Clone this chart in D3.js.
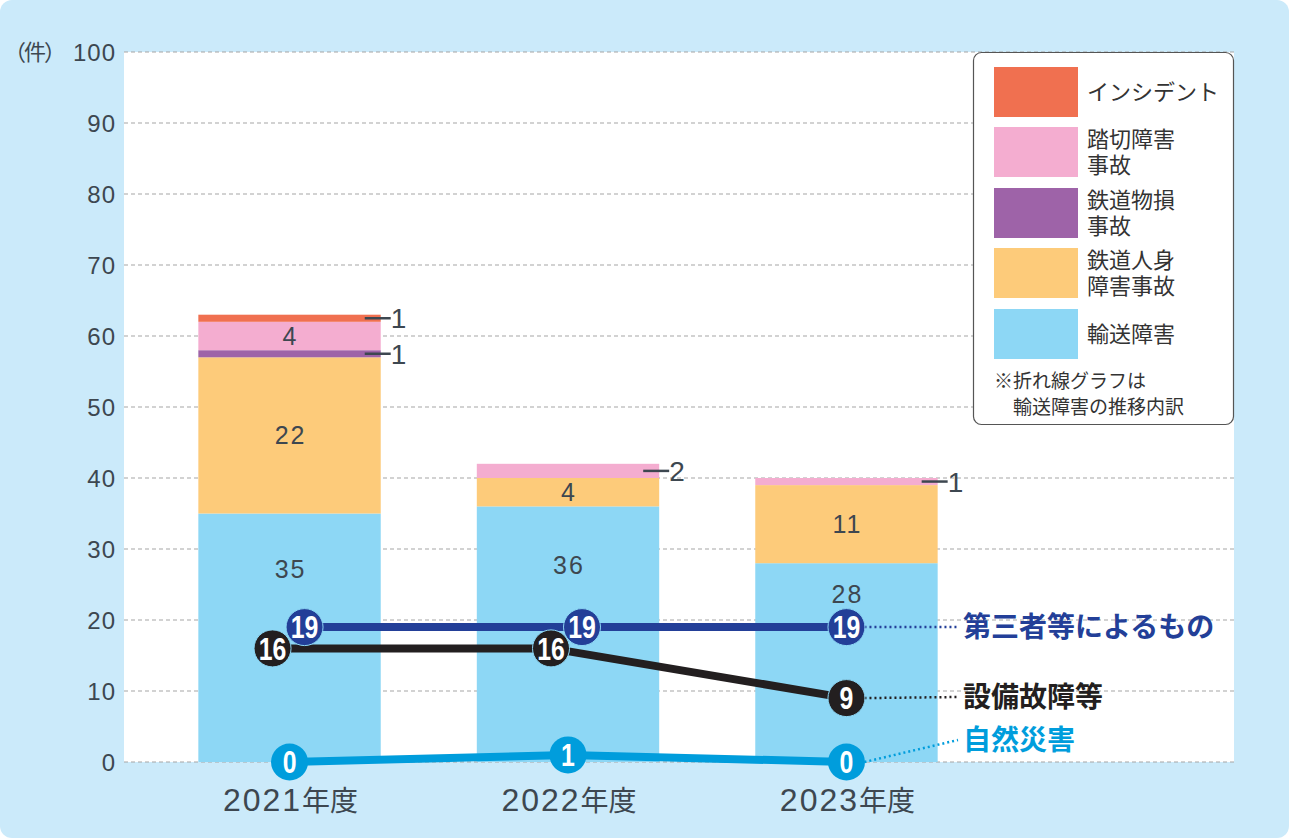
<!DOCTYPE html>
<html>
<head>
<meta charset="utf-8">
<script src="https://cdn.jsdelivr.net/npm/d3@7"></script>
<style>
  body { margin: 0; background: #fff; }
  svg text { font-family: "Liberation Sans", "Noto Sans CJK JP", sans-serif; }
  .jp { font-family: "Noto Sans CJK JP", sans-serif; }
</style>
</head>
<body>
<div id="chart"></div>
<script>
// data
const years = ["2021", "2022", "2023"];
const yearSuffix = "年度";
const seriesNames = ["輸送障害", "鉄道人身障害事故", "鉄道物損事故", "踏切障害事故", "インシデント"];
const legendLabels = [["インシデント"], ["踏切障害", "事故"], ["鉄道物損", "事故"], ["鉄道人身", "障害事故"], ["輸送障害"]];
const yusou = [35, 36, 28];
const jinshin = [22, 4, 11];
const bussonn = [1, 0, 0];
const fumikiri = [4, 2, 1];
const incident = [1, 0, 0];
const yTicks = [0, 10, 20, 30, 40, 50, 60, 70, 80, 90, 100];

const lineNames = ["第三者等によるもの", "設備故障等", "自然災害"];
const daisansha = [19, 19, 19];
const setsubi = [16, 16, 9];
const saigai = [0, 1, 0];

const barColors = ["#8dd7f5", "#fdcb7a", "#9e63a8", "#f4add0", "#f07050"];
const lineColors = ["#233f98", "#231f20", "#009ddc"];

const width = 1289, height = 838;
const textColor = "#3d4750";

const svg = d3.select("#chart").append("svg")
  .attr("width", width).attr("height", height);

// background panel
svg.append("rect").attr("x", 0).attr("y", 0).attr("width", width).attr("height", height)
  .attr("rx", 12).attr("fill", "#cbeafa");

const plotL = 124, plotR = 1234, plotT = 52, plotB = 762;
svg.append("rect").attr("x", plotL).attr("y", plotT)
  .attr("width", plotR - plotL).attr("height", plotB - plotT).attr("fill", "#fff");

const y = d3.scaleLinear().domain([0, 100]).range([plotB, plotT]);
const x = d3.scaleBand().domain(years).range([151, 985]).paddingInner(0.345).paddingOuter(0.17);

// grid lines
svg.append("g").selectAll("line").data(yTicks).join("line")
  .attr("x1", plotL).attr("x2", plotR)
  .attr("y1", d => y(d)).attr("y2", d => y(d))
  .attr("stroke", "#a5a5a5").attr("stroke-width", 1).attr("stroke-dasharray", "4,3");

// y axis labels
const yAxis = d3.axisLeft(y).tickValues(yTicks).tickSize(0).tickPadding(0);
const gy = svg.append("g").attr("transform", `translate(116,0)`).call(yAxis);
gy.select(".domain").remove();
gy.selectAll("text").attr("font-size", 24).attr("fill", textColor)
  .attr("letter-spacing", 1)
  .attr("font-family", "Liberation Sans, sans-serif").attr("dy", "0.36em");
svg.append("text").attr("class", "jp").attr("x", 4).attr("y", y(100)).attr("dy", "0.36em")
  .attr("font-size", 22).attr("letter-spacing", -2).attr("fill", textColor).text("（件）");

// stacked bars
const table = years.map((yr, i) => ({
  year: yr,
  [seriesNames[0]]: yusou[i], [seriesNames[1]]: jinshin[i], [seriesNames[2]]: bussonn[i],
  [seriesNames[3]]: fumikiri[i], [seriesNames[4]]: incident[i]
}));
const stack = d3.stack().keys(seriesNames)(table);
const lineMax = years.map((_, i) => Math.max(daisansha[i], setsubi[i], saigai[i]));

const gBars = svg.append("g");
stack.forEach((layer, li) => {
  gBars.selectAll(null).data(layer).join("rect")
    .attr("x", d => x(d.data.year)).attr("width", x.bandwidth())
    .attr("y", d => y(d[1])).attr("height", d => y(d[0]) - y(d[1]))
    .attr("fill", barColors[li]);
});

// value labels
stack.forEach((layer, li) => {
  layer.forEach((d, i) => {
    const v = d[1] - d[0];
    if (v <= 0) return;
    if (v >= 4) {
      // bottom segment label sits between its top and the line markers
      const mid = li === 0 ? (d[1] + lineMax[i]) / 2 + 0.2 : (d[0] + d[1]) / 2;
      gBars.append("text")
        .attr("x", x(d.data.year) + x.bandwidth() / 2 + 1)
        .attr("y", y(mid)).attr("dy", "0.36em")
        .attr("text-anchor", "middle").attr("font-size", 25).attr("letter-spacing", 2)
        .attr("fill", textColor)
        .text(v);
    } else {
      const xr = x(d.data.year) + x.bandwidth();
      const yc = y((d[0] + d[1]) / 2);
      gBars.append("line").attr("x1", xr - 16).attr("x2", xr + 10)
        .attr("y1", yc).attr("y2", yc).attr("stroke", textColor).attr("stroke-width", 2.5);
      gBars.append("text").attr("x", xr + 10).attr("y", yc).attr("dy", "0.36em")
        .attr("font-size", 28).attr("fill", textColor).text(v);
    }
  });
});

// x labels
const xl = svg.append("g").selectAll("text").data(years).join("text")
  .attr("x", d => x(d) + x.bandwidth() / 2 + 1).attr("y", 805).attr("dy", "0.36em")
  .attr("text-anchor", "middle").attr("fill", textColor);
xl.append("tspan").attr("font-size", 32).attr("letter-spacing", 2).text(d => d);
xl.append("tspan").attr("class", "jp").attr("font-size", 28).text(yearSuffix);

// line series (marker offsets avoid overlap)
const lines = [
  { name: lineNames[0], vals: daisansha, color: lineColors[0], dx: [15, 14, 0], labelY: 627 },
  { name: lineNames[1], vals: setsubi, color: lineColors[1], dx: [-17, -17, 0], labelY: 697 },
  { name: lineNames[2], vals: saigai, color: lineColors[2], dx: [0, 0, 0], labelY: 740 }
];
const cx = (i, s) => x(years[i]) + x.bandwidth() / 2 + s.dx[i];
const lineGen = d3.line().x(d => d[0]).y(d => d[1]);

const gLines = svg.append("g");
// draw in reverse so 第三者 is on top
[2, 1, 0].forEach(k => {
  const s = lines[k];
  const pts = s.vals.map((v, i) => [cx(i, s), y(v)]);
  gLines.append("path").attr("d", lineGen(pts)).attr("fill", "none")
    .attr("stroke", s.color).attr("stroke-width", 8);
  // leader from last point to label
  const last = pts[pts.length - 1];
  gLines.append("line").attr("x1", last[0] + 18).attr("y1", last[1])
    .attr("x2", 958).attr("y2", s.labelY)
    .attr("stroke", s.color).attr("stroke-width", 2.5).attr("stroke-dasharray", "2,3");
  gLines.append("text").attr("class", "jp")
    .attr("x", 963).attr("y", s.labelY).attr("dy", "0.36em")
    .attr("font-size", 28).attr("font-weight", "bold").attr("fill", s.color).text(s.name);
});
[2, 1, 0].forEach(k => {
  const s = lines[k];
  const pts = s.vals.map((v, i) => [cx(i, s), y(v), v]);
  const gm = gLines.append("g").selectAll("g").data(pts).join("g")
    .attr("transform", d => `translate(${d[0]},${d[1]})`);
  gm.append("circle").attr("r", 18.5).attr("fill", s.color)
    .attr("stroke", k === 2 ? "none" : "#8dd7f5").attr("stroke-width", 1);
  gm.append("text").attr("text-anchor", "middle").attr("dy", "0.36em")
    .attr("transform", "scale(0.8,1)")
    .attr("font-weight", "bold").attr("font-size", 31).attr("fill", "#fff")
    .text(d => d[2]);
});

// legend
const lg = svg.append("g");
lg.append("rect").attr("x", 973.5).attr("y", 52.5).attr("width", 260).attr("height", 372)
  .attr("rx", 8).attr("fill", "#fff").attr("stroke", "#555").attr("stroke-width", 1.2);
const legendColors = barColors.slice().reverse();
const swY = [67, 127, 188, 248, 309];
legendLabels.forEach((lab, i) => {
  lg.append("rect").attr("x", 994).attr("y", swY[i]).attr("width", 84).attr("height", 50)
    .attr("fill", legendColors[i]);
  const t = lg.append("text").attr("class", "jp").attr("font-size", 22).attr("fill", "#333");
  const y0 = swY[i] + 25 - (lab.length - 1) * 13;
  lab.forEach((line, j) => {
    t.append("tspan").attr("x", 1087).attr("y", y0 + j * 26).attr("dy", "0.36em").text(line);
  });
});
lg.append("text").attr("class", "jp").attr("x", 994).attr("y", 381).attr("dy", "0.36em")
  .attr("font-size", 19).attr("fill", "#333").text("※折れ線グラフは");
lg.append("text").attr("class", "jp").attr("x", 1013).attr("y", 407).attr("dy", "0.36em")
  .attr("font-size", 19).attr("fill", "#333").text("輸送障害の推移内訳");
</script>
</body>
</html>
